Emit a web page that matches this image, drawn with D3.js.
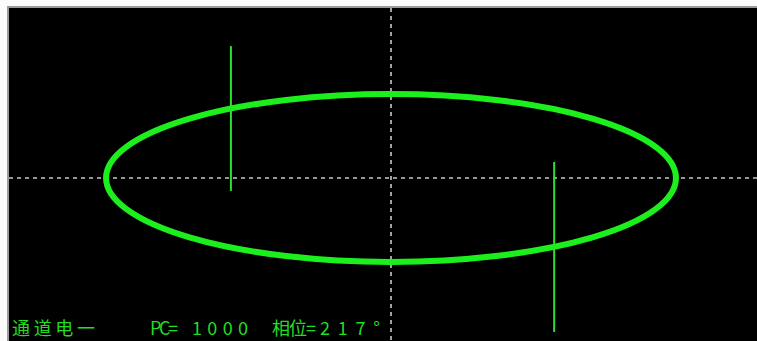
<!DOCTYPE html>
<html><head><meta charset="utf-8">
<script src="https://cdn.jsdelivr.net/npm/d3@7"></script>
<style>html,body{margin:0;padding:0;background:#fff;overflow:hidden}</style>
</head><body>
<svg id="c" width="757" height="341"></svg>
<script>
// X-Y (Lissajous) trace: ellipse centre and semi-axes in scope units
const ellipseCenter = [0, 0];
const ellipseRadii = [7.44, 2.47];
// marker spikes: x, yTop, yBottom
const spikeX = [-4.18, 4.26];
const spikeTop = [3.88, 0.47];
const spikeBottom = [-0.38, -4.53];
// status line labels
const labels = ["通道电一", "PC=", "1000", "相位=", "217°"];
const labelX = [12, 150, 192, 272, 320];
const labelW = [83, 28, 56, 44, 60];

const svg = d3.select("#c");
const x = d3.scaleLinear().domain([-10, 10]).range([8, 774]);
const y = d3.scaleLinear().domain([-5, 5]).range([348, 8]);

svg.append("rect").attr("x",0).attr("y",0).attr("width",757).attr("height",341).attr("fill","#fbfbfb");
svg.append("rect").attr("x",7).attr("y",6).attr("width",750).attr("height",335).attr("fill","#9a9a9a");
svg.append("rect").attr("x",9).attr("y",8).attr("width",748).attr("height",333).attr("fill","#000");

// dashed crosshair
svg.append("line").attr("x1",9).attr("x2",757).attr("y1",y(0)).attr("y2",y(0))
  .attr("stroke","#c8c8c8").attr("stroke-width",1.6).attr("stroke-dasharray","4,4");
svg.append("line").attr("x1",x(0)).attr("x2",x(0)).attr("y1",8).attr("y2",341)
  .attr("stroke","#c8c8c8").attr("stroke-width",1.6).attr("stroke-dasharray","4,4");

// trace
const defs = svg.append("defs");
defs.append("filter").attr("id","glow").append("feGaussianBlur").attr("stdDeviation",0.7);
svg.append("ellipse")
  .attr("cx", x(ellipseCenter[0])).attr("cy", y(ellipseCenter[1]))
  .attr("rx", x(ellipseRadii[0]) - x(0)).attr("ry", y(0) - y(ellipseRadii[1]))
  .attr("fill","none").attr("stroke","#1ef01e").attr("stroke-width",6)
  .attr("filter","url(#glow)");

svg.selectAll("line.spike").data(spikeX).join("line").attr("class","spike")
  .attr("x1", d => x(d)).attr("x2", d => x(d))
  .attr("y1", (d,i) => y(spikeTop[i])).attr("y2", (d,i) => y(spikeBottom[i]))
  .attr("stroke","#2ee02e").attr("stroke-width",2);

svg.selectAll("text.lbl").data(labels).join("text").attr("class","lbl")
  .attr("x",(d,i)=>labelX[i]).attr("y",335)
  .attr("textLength",(d,i)=>labelW[i]).attr("lengthAdjust","spacing")
  .attr("font-family","'Noto Sans CJK SC', 'DejaVu Sans', sans-serif")
  .attr("font-size",18).attr("fill","#22dd22").text(d=>d);
</script>
</body></html>
